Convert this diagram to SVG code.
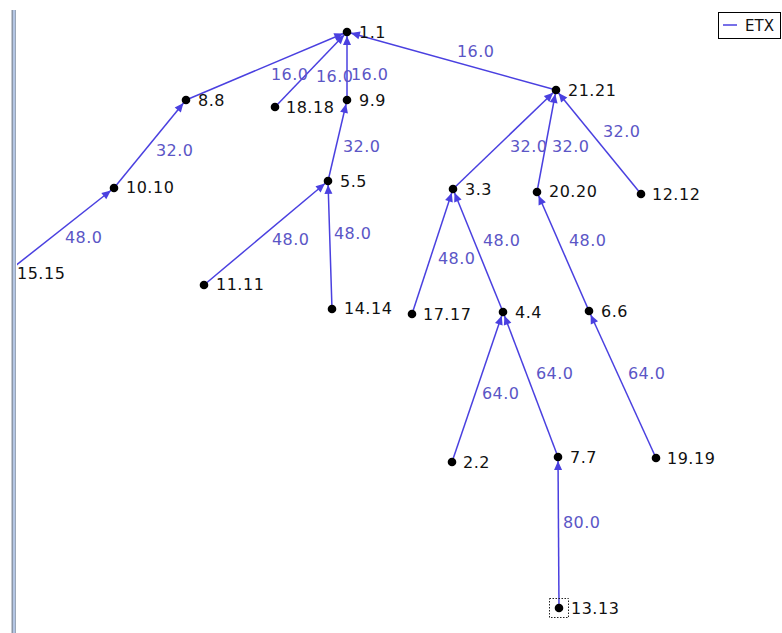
<svg xmlns="http://www.w3.org/2000/svg" width="782" height="633" viewBox="0 0 782 633">
<style>
.e{stroke:#4a40e0;stroke-width:1.5;fill:none;marker-end:url(#ah)}
.d{fill:#000}
.n{font-family:"DejaVu Sans",sans-serif;font-size:16px;letter-spacing:0.5px;fill:#111}
.l{font-family:"DejaVu Sans",sans-serif;font-size:16px;letter-spacing:0.4px;fill:#5b56c6}
</style>
<defs>
<marker id="ah" markerUnits="userSpaceOnUse" markerWidth="14" markerHeight="8" refX="13" refY="4" orient="auto" overflow="visible">
<path d="M0,0 L9,4 L0,8 z" fill="#4a40e0"/>
</marker>
<clipPath id="panel"><rect x="17" y="0" width="765" height="633"/></clipPath>
</defs>
<rect width="782" height="633" fill="#fff"/>
<g id="border">
<rect x="11.5" y="10" width="1.5" height="623" fill="#8b96a6"/>
<rect x="13" y="10" width="2" height="623" fill="#b4c6e4"/>
<rect x="15" y="10" width="1" height="623" fill="#9aa6b8"/>
</g>
<g id="connectors">
<line class="e" x1="186" y1="100" x2="347" y2="32"/>
<line class="e" x1="275" y1="107" x2="347" y2="32"/>
<line class="e" x1="347" y1="100" x2="347" y2="32"/>
<line class="e" x1="556" y1="90" x2="347" y2="32"/>
<line class="e" x1="114" y1="188" x2="186" y2="100"/>
<line class="e" x1="5" y1="274" x2="114" y2="188" clip-path="url(#panel)"/>
<line class="e" x1="328" y1="181" x2="347" y2="100"/>
<line class="e" x1="204" y1="285" x2="328" y2="181"/>
<line class="e" x1="332" y1="309" x2="328" y2="181"/>
<line class="e" x1="453" y1="189" x2="556" y2="90"/>
<line class="e" x1="537" y1="192" x2="556" y2="90"/>
<line class="e" x1="641" y1="194" x2="556" y2="90"/>
<line class="e" x1="412" y1="314" x2="453" y2="189"/>
<line class="e" x1="503" y1="312" x2="453" y2="189"/>
<line class="e" x1="589" y1="311" x2="537" y2="192"/>
<line class="e" x1="452" y1="462" x2="503" y2="312"/>
<line class="e" x1="558" y1="457" x2="503" y2="312"/>
<line class="e" x1="656" y1="458" x2="589" y2="311"/>
<line class="e" x1="559" y1="608" x2="558" y2="457"/>
<text class="l" x="271" y="80">16.0</text>
<text class="l" x="316" y="82">16.0</text>
<text class="l" x="351" y="80">16.0</text>
<text class="l" x="457" y="57">16.0</text>
<text class="l" x="156" y="156">32.0</text>
<text class="l" x="343" y="152">32.0</text>
<text class="l" x="510" y="152">32.0</text>
<text class="l" x="552" y="152">32.0</text>
<text class="l" x="603" y="137">32.0</text>
<text class="l" x="65" y="243">48.0</text>
<text class="l" x="272" y="245">48.0</text>
<text class="l" x="334" y="239">48.0</text>
<text class="l" x="438" y="264">48.0</text>
<text class="l" x="483" y="246">48.0</text>
<text class="l" x="569" y="246">48.0</text>
<text class="l" x="482" y="399">64.0</text>
<text class="l" x="536" y="379">64.0</text>
<text class="l" x="628" y="379">64.0</text>
<text class="l" x="563" y="528">80.0</text>
</g>
<g id="n1_1"><circle class="d" cx="347" cy="32" r="4.3"/><text class="n" x="359" y="38">1.1</text></g>
<g id="n8_8"><circle class="d" cx="186" cy="100" r="4.3"/><text class="n" x="198" y="106">8.8</text></g>
<g id="n18_18"><circle class="d" cx="275" cy="107" r="4.3"/><text class="n" x="286" y="113">18.18</text></g>
<g id="n9_9"><circle class="d" cx="347" cy="100" r="4.3"/><text class="n" x="359" y="106">9.9</text></g>
<g id="n21_21"><circle class="d" cx="556" cy="90" r="4.3"/><text class="n" x="568" y="96">21.21</text></g>
<g id="n10_10"><circle class="d" cx="114" cy="188" r="4.3"/><text class="n" x="126" y="193">10.10</text></g>
<g id="n5_5"><circle class="d" cx="328" cy="181" r="4.3"/><text class="n" x="340" y="187">5.5</text></g>
<g id="n15_15"><circle class="d" cx="5" cy="274" r="4.3" clip-path="url(#panel)"/><text class="n" x="17" y="279">15.15</text></g>
<g id="n11_11"><circle class="d" cx="204" cy="285" r="4.3"/><text class="n" x="216" y="290">11.11</text></g>
<g id="n14_14"><circle class="d" cx="332" cy="309" r="4.3"/><text class="n" x="344" y="314">14.14</text></g>
<g id="n3_3"><circle class="d" cx="453" cy="189" r="4.3"/><text class="n" x="465" y="195">3.3</text></g>
<g id="n20_20"><circle class="d" cx="537" cy="192" r="4.3"/><text class="n" x="549" y="197">20.20</text></g>
<g id="n12_12"><circle class="d" cx="641" cy="194" r="4.3"/><text class="n" x="652" y="200">12.12</text></g>
<g id="n17_17"><circle class="d" cx="412" cy="314" r="4.3"/><text class="n" x="423" y="320">17.17</text></g>
<g id="n4_4"><circle class="d" cx="503" cy="312" r="4.3"/><text class="n" x="515" y="318">4.4</text></g>
<g id="n6_6"><circle class="d" cx="589" cy="311" r="4.3"/><text class="n" x="601" y="317">6.6</text></g>
<g id="n2_2"><circle class="d" cx="452" cy="462" r="4.3"/><text class="n" x="463" y="468">2.2</text></g>
<g id="n7_7"><circle class="d" cx="558" cy="457" r="4.3"/><text class="n" x="570" y="463">7.7</text></g>
<g id="n19_19"><circle class="d" cx="656" cy="458" r="4.3"/><text class="n" x="667" y="464">19.19</text></g>
<g id="n13_13"><rect x="549.5" y="598.5" width="19" height="19" fill="none" stroke="#222" stroke-width="1" stroke-dasharray="1.5,1.5"/><circle class="d" cx="559" cy="608" r="4.3"/><text class="n" x="571" y="614">13.13</text></g>
<g id="legend">
<rect x="718.5" y="12.5" width="62" height="26" fill="#fff" stroke="#000" stroke-width="1"/>
<line x1="723" y1="25" x2="737" y2="25" stroke="#4a40e0" stroke-width="1.5"/>
<text x="745" y="31" font-family="DejaVu Sans, sans-serif" font-size="15" fill="#111">ETX</text>
</g>
</svg>
